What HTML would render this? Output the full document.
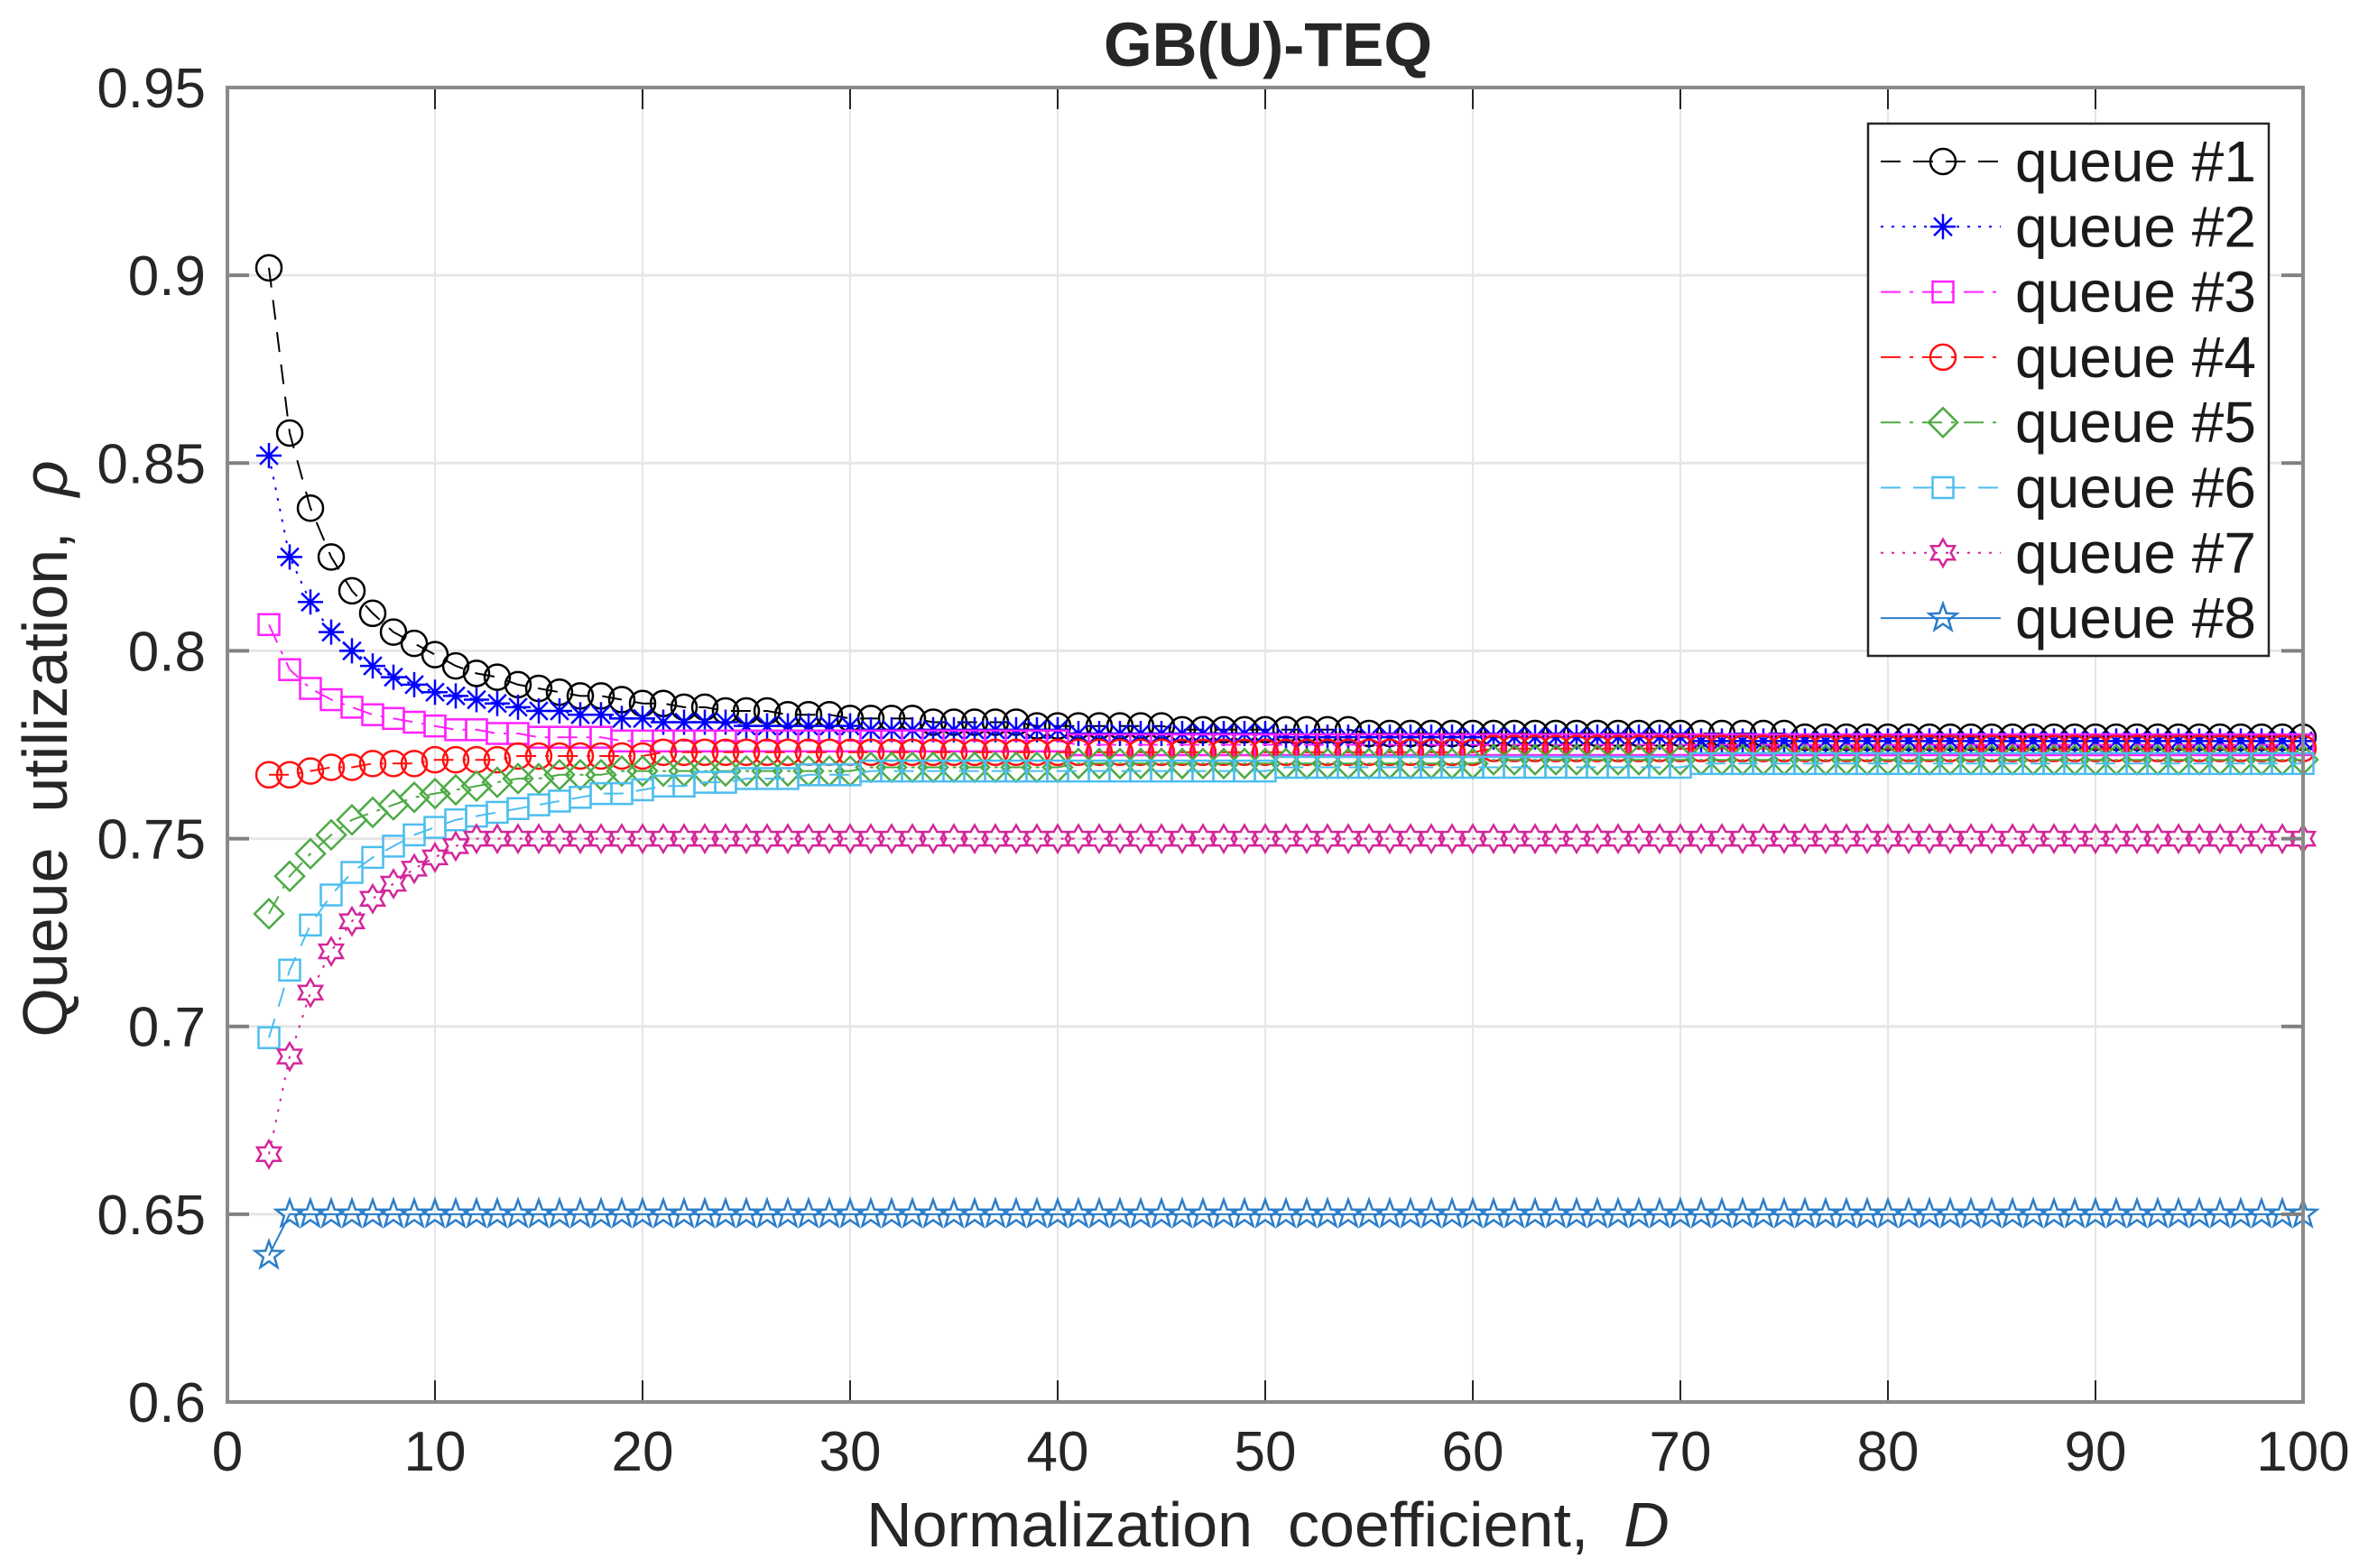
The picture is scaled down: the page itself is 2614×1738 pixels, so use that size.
<!DOCTYPE html>
<html><head><meta charset="utf-8"><style>
html,body{margin:0;padding:0;background:#fff;}
svg{display:block;font-family:"Liberation Sans",Arial,sans-serif;}
</style></head><body>
<svg id="chart" width="2614" height="1738" viewBox="0 0 2614 1738" xmlns="http://www.w3.org/2000/svg">
<rect width="2614" height="1738" fill="#fff"/>
<g id="grid"></g>
<g id="series"></g>
<g id="axes"></g>
<text x="1405" y="73" text-anchor="middle" font-size="69" font-weight="bold" fill="#262626">GB(U)-TEQ</text>
<text x="1405" y="1714" text-anchor="middle" font-size="70" fill="#262626">Normalization&#160; coefficient,&#160; <tspan font-style="italic">D</tspan></text>
<text transform="translate(74,830) rotate(-90)" text-anchor="middle" font-size="70" fill="#262626">Queue&#160; utilization,&#160; <tspan font-style="italic">ρ</tspan></text>
<g id="legend"></g>
</svg>
<script>
const xTicks=[0,10,20,30,40,50,60,70,80,90,100];
const yTicks=[0.6,0.65,0.7,0.75,0.8,0.85,0.9,0.95];
const yTickLabels=["0.6","0.65","0.7","0.75","0.8","0.85","0.9","0.95"];
const dValues=[2,3,4,5,6,7,8,9,10,11,12,13,14,15,16,17,18,19,20,21,22,23,24,25,26,27,28,29,30,31,32,33,34,35,36,37,38,39,40,41,42,43,44,45,46,47,48,49,50,51,52,53,54,55,56,57,58,59,60,61,62,63,64,65,66,67,68,69,70,71,72,73,74,75,76,77,78,79,80,81,82,83,84,85,86,87,88,89,90,91,92,93,94,95,96,97,98,99,100];
const q1=[.902,.858,.838,.825,.816,.810,.805,.802,.799,
.796,.794,.793,.791,.790,.789,.788,.788,.787,.786,
.786,.785,.785,.784,.784,.784,.783,.783,.783,.782,
.782,.782,.782,.781,.781,.781,.781,.781,.780,.780,
.780,.780,.780,.780,.780,.779,.779,.779,.779,.779,
.779,.779,.779,.779,.778,.778,.778,.778,.778,.778,
.778,.778,.778,.778,.778,.778,.778,.778,.778,.778,
.778,.778,.778,.778,.778,.777,.777,.777,.777,.777,
.777,.777,.777,.777,.777,.777,.777,.777,.777,.777,
.777,.777,.777,.777,.777,.777,.777,.777,.777,.777];
const q2=[.852,.825,.813,.805,.800,.796,.793,.791,.789,
.788,.787,.786,.785,.784,.784,.783,.783,.782,.782,
.781,.781,.781,.781,.780,.780,.780,.780,.780,.780,
.779,.779,.779,.779,.779,.779,.779,.779,.779,.779,
.778,.778,.778,.778,.778,.778,.778,.778,.778,.778,
.777,.777,.777,.777,.777,.777,.777,.777,.777,.777,
.777,.777,.777,.777,.777,.777,.777,.777,.777,.777,
.776,.776,.776,.776,.776,.776,.776,.776,.776,.776,
.776,.776,.776,.776,.776,.776,.776,.776,.776,.776,
.776,.776,.776,.776,.776,.776,.776,.776,.776,.776];
const q3=[.807,.795,.790,.787,.785,.783,.782,.781,.780,
.779,.779,.778,.778,.777,.777,.777,.777,.776,.776,
.776,.776,.776,.776,.776,.776,.776,.776,.776,.776,
.776,.776,.776,.776,.776,.776,.776,.776,.776,.776,
.775,.775,.775,.775,.775,.775,.775,.775,.775,.775,
.775,.775,.775,.775,.775,.775,.775,.775,.775,.775,
.775,.775,.775,.775,.775,.775,.775,.775,.775,.775,
.775,.775,.775,.775,.775,.775,.775,.775,.775,.775,
.775,.775,.775,.775,.775,.775,.775,.775,.775,.775,
.775,.775,.775,.775,.775,.775,.775,.775,.775,.775];
const q4=[.767,.767,.768,.769,.769,.770,.770,.770,.771,
.771,.771,.771,.772,.772,.772,.772,.772,.772,.772,
.773,.773,.773,.773,.773,.773,.773,.773,.773,.773,
.773,.773,.773,.773,.773,.773,.773,.773,.773,.773,
.773,.773,.773,.773,.773,.773,.773,.773,.773,.773,
.773,.773,.773,.773,.773,.773,.773,.773,.773,.773,
.774,.774,.774,.774,.774,.774,.774,.774,.774,.774,
.774,.774,.774,.774,.774,.774,.774,.774,.774,.774,
.774,.774,.774,.774,.774,.774,.774,.774,.774,.774,
.774,.774,.774,.774,.774,.774,.774,.774,.774,.774];
const q5=[.730,.740,.746,.751,.755,.757,.759,.761,.762,
.763,.764,.765,.766,.766,.767,.767,.767,.768,.768,
.768,.768,.768,.768,.768,.768,.768,.768,.768,.768,
.769,.769,.769,.769,.769,.769,.769,.769,.769,.769,
.770,.770,.770,.770,.770,.770,.770,.770,.770,.770,
.770,.770,.770,.770,.770,.770,.770,.770,.770,.770,
.771,.771,.771,.771,.771,.771,.771,.771,.771,.771,
.771,.771,.771,.771,.771,.771,.771,.771,.771,.771,
.771,.771,.771,.771,.771,.771,.771,.771,.771,.771,
.771,.771,.771,.771,.771,.771,.771,.771,.771,.771];
const q6=[.697,.715,.727,.735,.741,.745,.748,.751,.753,
.755,.756,.757,.758,.759,.760,.761,.762,.762,.763,
.764,.764,.765,.765,.766,.766,.766,.767,.767,.767,
.768,.768,.768,.768,.768,.768,.768,.768,.768,.768,
.768,.768,.768,.768,.768,.768,.768,.768,.768,.768,
.769,.769,.769,.769,.769,.769,.769,.769,.769,.769,
.769,.769,.769,.769,.769,.769,.769,.769,.769,.769,
.770,.770,.770,.770,.770,.770,.770,.770,.770,.770,
.770,.770,.770,.770,.770,.770,.770,.770,.770,.770,
.770,.770,.770,.770,.770,.770,.770,.770,.770,.770];
const q7=[.666,.692,.709,.720,.728,.734,.738,.742,.745,
.748,.750,.750,.750,.750,.750,.750,.750,.750,.750,
.750,.750,.750,.750,.750,.750,.750,.750,.750,.750,
.750,.750,.750,.750,.750,.750,.750,.750,.750,.750,
.750,.750,.750,.750,.750,.750,.750,.750,.750,.750,
.750,.750,.750,.750,.750,.750,.750,.750,.750,.750,
.750,.750,.750,.750,.750,.750,.750,.750,.750,.750,
.750,.750,.750,.750,.750,.750,.750,.750,.750,.750,
.750,.750,.750,.750,.750,.750,.750,.750,.750,.750,
.750,.750,.750,.750,.750,.750,.750,.750,.750,.750];
const q8=[.639,.650,.650,.650,.650,.650,.650,.650,.650,
.650,.650,.650,.650,.650,.650,.650,.650,.650,.650,
.650,.650,.650,.650,.650,.650,.650,.650,.650,.650,
.650,.650,.650,.650,.650,.650,.650,.650,.650,.650,
.650,.650,.650,.650,.650,.650,.650,.650,.650,.650,
.650,.650,.650,.650,.650,.650,.650,.650,.650,.650,
.650,.650,.650,.650,.650,.650,.650,.650,.650,.650,
.650,.650,.650,.650,.650,.650,.650,.650,.650,.650,
.650,.650,.650,.650,.650,.650,.650,.650,.650,.650,
.650,.650,.650,.650,.650,.650,.650,.650,.650,.650];
const seriesNames=["queue #1","queue #2","queue #3","queue #4","queue #5","queue #6","queue #7","queue #8"];
const seriesData=[q1,q2,q3,q4,q5,q6,q7,q8];

const styles=[
 {c:"#000000",dash:"22,14",m:"circle"},
 {c:"#0000FF",dash:"3,9",m:"asterisk"},
 {c:"#FF22FF",dash:"22,10,4,10",m:"square"},
 {c:"#FF1010",dash:"22,10,4,10",m:"circle"},
 {c:"#4DAA44",dash:"22,10,4,10",m:"diamond"},
 {c:"#4DBEEE",dash:"22,14",m:"square"},
 {c:"#D4259A",dash:"3,9",m:"hexagram"},
 {c:"#2C7EC8",dash:"none",m:"pentagram"}];

const X0=252,X1=2552,Y0=1554,Y1=97,XMIN=0,XMAX=100,YMIN=0.6,YMAX=0.95;
const xs=v=>X0+(v-XMIN)/(XMAX-XMIN)*(X1-X0);
const ys=v=>Y0-(v-YMIN)/(YMAX-YMIN)*(Y0-Y1);
const NS="http://www.w3.org/2000/svg";
function mk(tag,attrs,parent){const e=document.createElementNS(NS,tag);for(const k in attrs)e.setAttribute(k,attrs[k]);parent.appendChild(e);return e;}

const grid=document.getElementById('grid'),axes=document.getElementById('axes'),sg=document.getElementById('series'),lg=document.getElementById('legend');
xTicks.forEach((t,i)=>{
 const x=xs(t);
 const gl=mk('line',{x1:x,x2:x,y1:Y1,y2:Y0,stroke:'#e6e6e6','stroke-width':2},grid);
 
 
 const tk=mk('path',{d:`M${x},${Y0}v-24M${x},${Y1}v24`,stroke:'#262626','stroke-width':2},axes);
 
 
 const tl=mk('text',{x:x,y:1630,'text-anchor':'middle','font-size':62,fill:'#262626'},axes);
 tl.textContent=String(t);
 
 
});
yTicks.forEach((t,i)=>{
 const y=ys(t);
 const gl=mk('line',{x1:X0,x2:X1,y1:y,y2:y,stroke:'#e6e6e6','stroke-width':3},grid);
 
 
 const tk=mk('path',{d:`M${X0},${y}h24M${X1},${y}h-24`,stroke:'#808080','stroke-width':4},axes);
 
 
 const tl=mk('text',{x:228,y:y+22,'text-anchor':'end','font-size':62,fill:'#262626'},axes);
 tl.textContent=yTickLabels[i];
 
 
});
const box=mk('rect',{x:X0,y:Y1,width:X1-X0,height:Y0-Y1,fill:'none',stroke:'#8a8a8a','stroke-width':4},axes);



function star(cx,cy,n,ro,ri){let p=[];for(let k=0;k<2*n;k++){const r=k%2?ri:ro;const a=-Math.PI/2+k*Math.PI/n;p.push((cx+r*Math.cos(a)).toFixed(1)+','+(cy+r*Math.sin(a)).toFixed(1));}return p.join(' ');}
function marker(type,x,y,c,parent){
 let e;const a={fill:'none',stroke:c,'stroke-width':2.5};
 if(type==='circle'){e=mk('circle',Object.assign({cx:x,cy:y,r:14},a),parent);}
 else if(type==='square'){e=mk('rect',Object.assign({x:x-11.5,y:y-11.5,width:23,height:23},a),parent);}
 else if(type==='diamond'){e=mk('polygon',Object.assign({points:`${x},${y-16} ${x+16},${y} ${x},${y+16} ${x-16},${y}`},a),parent);}
 else if(type==='asterisk'){const r=14,d=r*0.707;e=mk('path',Object.assign({d:`M${x-r},${y}h${2*r}M${x},${y-r}v${2*r}M${x-d},${y-d}l${2*d},${2*d}M${x-d},${y+d}l${2*d},${-2*d}`},a),parent);}
 else if(type==='hexagram'){e=mk('polygon',Object.assign({points:star(x,y,6,15,8.7)},a),parent);}
 else {e=mk('polygon',Object.assign({points:star(x,y,5,16,6.5)},a),parent);}
 return e;
}
seriesData.forEach((vals,si)=>{
 const st=styles[si];
 const g=mk('g',{},sg);
 
 
 const pts=vals.map((v,i)=>xs(dValues[i]).toFixed(1)+','+ys(v).toFixed(1)).join(' ');
 const ln=mk('polyline',{points:pts,fill:'none',stroke:st.c,'stroke-width':2,'stroke-dasharray':st.dash},g);
 
 
 vals.forEach((v,i)=>{
  const m=marker(st.m,xs(dValues[i]),ys(v),st.c,g);
  
  
 });
});
const lgBox=mk('rect',{x:2070,y:137,width:444,height:590,fill:'#fff',stroke:'#262626','stroke-width':2.5},lg);


seriesNames.forEach((nm,si)=>{
 const st=styles[si];const y=179+si*72.3;
 const g=mk('g',{},lg);
 
 
 mk('line',{x1:2084,x2:2217,y1:y,y2:y,stroke:st.c,'stroke-width':2,'stroke-dasharray':st.dash},g);
 marker(st.m,2153,y,st.c,g);
 const t=mk('text',{x:2233,y:y+22,'font-size':64,fill:'#1a1a1a'},g);
 t.textContent=nm;
});
</script>
</body></html>
